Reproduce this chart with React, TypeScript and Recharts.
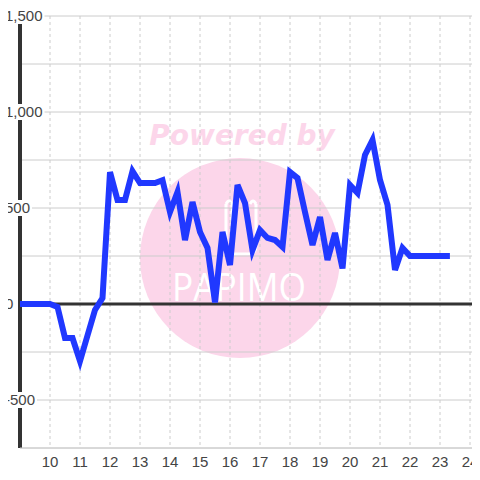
import React from "react";
import { LineChart, Line, XAxis, YAxis, CartesianGrid, ReferenceLine } from "recharts";

const times = [9, 10, 10.25, 10.5, 10.75, 11, 11.25, 11.5, 11.75, 12, 12.25, 12.5, 12.75, 13, 13.25, 13.5, 13.75, 14, 14.25, 14.5, 14.75, 15, 15.25, 15.5, 15.75, 16, 16.25, 16.5, 16.75, 17, 17.25, 17.5, 17.75, 18, 18.25, 18.5, 18.75, 19, 19.25, 19.5, 19.75, 20, 20.25, 20.5, 20.75, 21, 21.25, 21.5, 21.75, 22, 23.33];
const values = [0, 0, -15, -177, -177, -297, -164, -31, 31, 687, 542, 542, 692, 630, 630, 630, 645, 479, 583, 333, 531, 375, 292, 8, 375, 203, 620, 526, 281, 385, 344, 333, 297, 687, 656, 479, 307, 453, 229, 370, 185, 620, 578, 776, 854, 646, 516, 177, 292, 250, 250];

const xTicks = [10, 11, 12, 13, 14, 15, 16, 17, 18, 19, 20, 21, 22, 23, 24];
const yTicks = [-750, -500, -250, 0, 250, 500, 750, 1000, 1250, 1500];
const yLabelled = [-500, 0, 500, 1000, 1500];

const data = times.map((t, i) => ({ t, v: values[i] }));

const charW = (s: string) =>
  s.split("").reduce((a, c) => a + (c === "," ? 4.17 : c === "-" ? 5 : 8.34), 0);

const LABEL_LEFT = 5;

const YTick = (props: any) => {
  const { y, payload } = props;
  if (!yLabelled.includes(payload.value)) return null;
  const label = Number(payload.value).toLocaleString("en-US");
  const w = charW(label);
  return (
    <g>
      <rect x={LABEL_LEFT - 2} y={y - 8} width={w + 4} height={16} fill="#ffffff" />
      <text x={LABEL_LEFT} y={y} dy="0.36em" textAnchor="start" fill="#444" fontSize={15} fontFamily="Liberation Sans, Arial, sans-serif">
        {label}
      </text>
    </g>
  );
};

const XTick = (props: any) => {
  const { x, y, payload } = props;
  return (
    <text x={x} y={y} dy="0.71em" textAnchor="middle" fill="#444" fontSize={15} fontFamily="Liberation Sans, Arial, sans-serif">
      {payload.value}
    </text>
  );
};

const Watermark = () => (
  <svg width={480} height={480} style={{ position: "absolute", left: 0, top: 0 }}>
    <circle cx={240} cy={258} r={100} fill="#fcd6ea" />
    <text x={242} y={145} textAnchor="middle" fill="#fcd6ea" fontSize={28} fontWeight="bold" fontStyle="italic" fontFamily="DejaVu Sans, sans-serif">
      Powered by
    </text>
    <path d="M226 204 v42 q0 8 8 8 h14 q8 0 8 -8 v-42" fill="none" stroke="#ffffff" strokeWidth={3} />
    <path d="M226 204 q3 -6 6 0 v30" fill="none" stroke="#ffffff" strokeWidth={3} />
    <path d="M250 204 q3 -6 6 0" fill="none" stroke="#ffffff" strokeWidth={3} />
    <text x={172} y={301} textLength={134} lengthAdjust="spacingAndGlyphs" fill="#ffffff" fontSize={38} fontFamily="Open Sans, sans-serif">
      PAPIMO
    </text>
  </svg>
);

export default function App() {
  return (
    <div style={{ position: "relative", width: 480, height: 480, margin: -8, background: "#ffffff", overflow: "hidden" }}>
      <Watermark />
      <div style={{ position: "absolute", left: 0, top: 0 }}>
        <LineChart width={480} height={480} data={data} margin={{ top: 16, right: 0, left: 0, bottom: 0 }}>
          <CartesianGrid horizontal={true} vertical={false} stroke="#cccccc" strokeWidth={1} />
          <CartesianGrid horizontal={false} vertical={true} stroke="#cccccc" strokeDasharray="3 3" strokeWidth={1} />
          <CartesianGrid
            horizontal={false}
            vertical={true}
            verticalCoordinatesGenerator={({ offset }: any) => [offset.left]}
            stroke="#333333"
            strokeWidth={4}
          />
          <XAxis
            type="number"
            dataKey="t"
            domain={[9, 24.3333]}
            ticks={xTicks}
            interval={0}
            allowDataOverflow
            height={32}
            tickLine={false}
            axisLine={{ stroke: "#cccccc", strokeWidth: 1 }}
            tick={<XTick />}
          />
          <YAxis
            type="number"
            domain={[-750, 1500]}
            ticks={yTicks}
            width={20}
            tickLine={false}
            axisLine={false}
            tick={<YTick />}
            interval={0}
          />
          <ReferenceLine y={0} stroke="#333333" strokeWidth={3} />
          <Line
            type="linear"
            dataKey="v"
            stroke="#2038ff"
            strokeWidth={6}
            dot={false}
            isAnimationActive={false}
          />
        </LineChart>
      </div>
    </div>
  );
}
